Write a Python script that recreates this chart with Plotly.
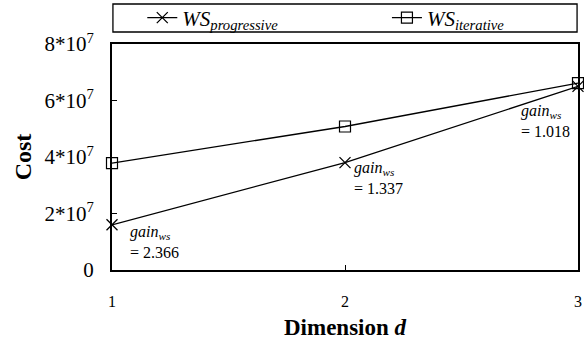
import plotly.graph_objects as go

dims = [1, 2, 3]
ws_progressive = [1.60e7, 3.80e7, 6.50e7]
ws_iterative = [3.786e7, 5.08e7, 6.617e7]
gains = ["2.366", "1.337", "1.018"]
ytick_vals = [0, 2e7, 4e7, 6e7, 8e7]
ytick_text = ["0", "2*10<sup>7</sup>", "4*10<sup>7</sup>", "6*10<sup>7</sup>", "8*10<sup>7</sup>"]
xtick_vals = [1, 2, 3]
xtick_text = ["1", "2", "3"]

FONT = "'Liberation Serif', 'Times New Roman', Times, serif"
SUB = '<sub style="font-size:17px">'

fig = go.Figure()
fig.add_trace(go.Scatter(
    x=dims, y=ws_progressive, mode="lines+markers",
    name="<i>WS" + SUB + "progressive</sub></i>",
    line=dict(color="black", width=1.3),
    marker=dict(symbol="x-thin-open", size=11, color="black", line=dict(color="black", width=1.3)),
    cliponaxis=False, legend="legend",
))
fig.add_trace(go.Scatter(
    x=dims, y=ws_iterative, mode="lines+markers",
    name="<i>WS" + SUB + "iterative</sub></i>",
    line=dict(color="black", width=1.3),
    marker=dict(symbol="square-open", size=11, color="black", line=dict(color="black", width=1.2)),
    cliponaxis=False, legend="legend2",
))

# gain annotations
offsets = [(16, -17), (7, -15), (-59, -35)]
for d, yv, g, (dx, dy) in zip(dims, ws_progressive, gains, offsets):
    fig.add_annotation(
        x=d, y=yv, xref="x", yref="y",
        text='<i>gain<sub style="font-size:12px">ws</sub></i><br>= ' + g,
        showarrow=False, xanchor="left", yanchor="middle", align="left",
        xshift=dx, yshift=dy,
        font=dict(family=FONT, size=16, color="black"),
    )

# legend box
fig.add_shape(type="rect", xref="paper", yref="paper",
              x0=0.002, x1=0.998, y0=1.053, y1=1.177,
              line=dict(color="black", width=1.3), fillcolor="rgba(0,0,0,0)")

legend_common = dict(
    orientation="h", yanchor="middle", y=1.115,
    font=dict(family=FONT, size=21, color="black"),
    bgcolor="rgba(0,0,0,0)", borderwidth=0, itemwidth=30,
)

fig.update_layout(
    width=584, height=340,
    margin=dict(l=112, r=6, t=44, b=70, autoexpand=False),
    paper_bgcolor="white", plot_bgcolor="white",
    font=dict(family=FONT, color="black"),
    showlegend=True,
    legend=dict(x=0.065, xanchor="left", **legend_common),
    legend2=dict(x=0.59, xanchor="left", **legend_common),
    xaxis=dict(
        range=[1, 3], tickvals=xtick_vals, ticktext=xtick_text,
        ticks="inside", ticklen=5, tickwidth=1.2, tickcolor="black",
        showline=True, linecolor="black", linewidth=2, mirror=True,
        showgrid=False, zeroline=False,
        tickfont=dict(family=FONT, size=16, color="black"),
        ticklabelstandoff=16,
        title=dict(text="<b>Dimension <i>d</i></b>", font=dict(family=FONT, size=23, color="black"), standoff=10),
    ),
    yaxis=dict(
        range=[0, 8e7], tickvals=ytick_vals, ticktext=ytick_text,
        ticks="inside", ticklen=5, tickwidth=1.2, tickcolor="black",
        showline=True, linecolor="black", linewidth=2, mirror=True,
        showgrid=False, zeroline=False,
        tickfont=dict(family=FONT, size=21, color="black"),
        ticklabelstandoff=12,
        title=dict(text="<b>Cost</b>", font=dict(family=FONT, size=24, color="black"), standoff=6),
    ),
)

fig.write_html("out.html")
